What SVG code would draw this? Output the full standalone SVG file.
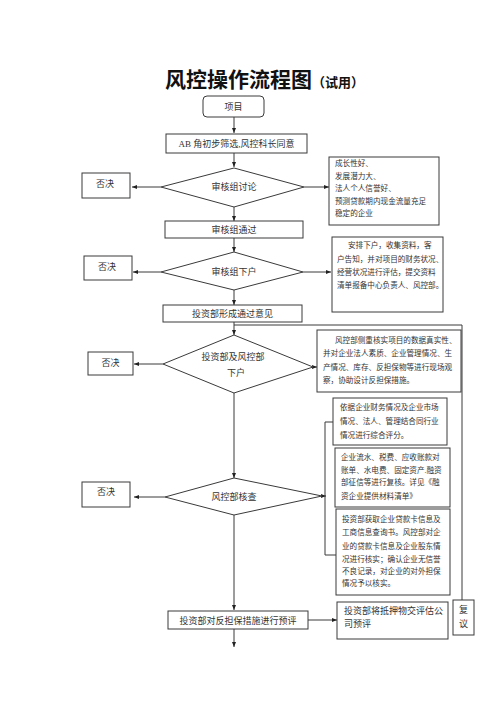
<svg xmlns="http://www.w3.org/2000/svg" width="500" height="708" viewBox="0 0 500 708">
<style>
.b{fill:#fff;stroke:#3a3a3a;stroke-width:1}
.l{fill:none;stroke:#3a3a3a;stroke-width:1}
.t{font-family:"Liberation Serif","Noto Sans CJK SC",serif;font-size:9px;fill:#333}
.s{font-family:"Liberation Serif","Noto Sans CJK SC",serif;font-size:7.6px;fill:#333}
.c{text-anchor:middle}
</style>
<defs>
<marker id="a" viewBox="0 0 10 10" refX="10" refY="5" markerWidth="5" markerHeight="5" orient="auto" markerUnits="userSpaceOnUse"><path d="M0,1 L10,5 L0,9 z" fill="#222"/></marker>
</defs>
<rect width="500" height="708" fill="#fff"/>
<text x="165" y="87" font-family="'Noto Sans CJK SC',sans-serif" font-size="21" font-weight="bold" fill="#111">风控操作流程图<tspan font-size="13">（试用）</tspan></text>

<g id="connectors">
<line class="l" x1="234" y1="117" x2="234" y2="133" marker-end="url(#a)"/>
<line class="l" x1="234" y1="153" x2="234" y2="167" marker-end="url(#a)"/>
<line class="l" x1="161" y1="187" x2="132" y2="187" marker-end="url(#a)"/>
<line class="l" x1="304" y1="187" x2="329" y2="187" marker-end="url(#a)"/>
<line class="l" x1="234" y1="207" x2="234" y2="221" marker-end="url(#a)"/>
<line class="l" x1="234" y1="238" x2="234" y2="252" marker-end="url(#a)"/>
<line class="l" x1="161" y1="272" x2="133" y2="272" marker-end="url(#a)"/>
<line class="l" x1="303" y1="272" x2="331" y2="272" marker-end="url(#a)"/>
<line class="l" x1="234" y1="290" x2="234" y2="305" marker-end="url(#a)"/>
<line class="l" x1="234" y1="322" x2="234" y2="335" marker-end="url(#a)"/>
<polyline class="l" points="234,325 462,325 462,600"/>
<line class="l" x1="163" y1="364" x2="134" y2="364" marker-end="url(#a)"/>
<line class="l" x1="313" y1="367" x2="317" y2="367" marker-end="url(#a)"/>
<line class="l" x1="234" y1="393" x2="234" y2="478" marker-end="url(#a)"/>
<line class="l" x1="165" y1="497" x2="134" y2="497" marker-end="url(#a)"/>
<line class="l" x1="322" y1="496" x2="326" y2="496" marker-end="url(#a)"/>
<polyline class="l" points="333,422 325,422 325,555 336,555"/>
<line class="l" x1="234" y1="515" x2="234" y2="610" marker-end="url(#a)"/>
<line class="l" x1="308" y1="620" x2="337" y2="620" marker-end="url(#a)"/>
<line class="l" x1="234" y1="629" x2="234" y2="647" marker-end="url(#a)"/>
</g>

<g id="n-start"><rect class="b" x="203" y="96" width="61" height="21" rx="4"/><text class="t c" x="233.5" y="109.5">项目</text></g>
<g id="n-ab"><rect class="b" x="166" y="134" width="141" height="19"/><text class="t c" x="236.5" y="147">AB 角初步筛选,风控科长同意</text></g>
<g id="n-d1"><polygon class="b" points="234,168 304,187 234,207 161,187"/><text class="t c" x="234" y="190">审核组讨论</text></g>
<g id="n-r1"><rect class="b" x="82" y="173" width="48" height="25"/><text class="t c" x="105" y="187">否决</text></g>
<g id="n-c1"><rect class="b" x="329" y="157" width="110" height="68"/>
<text class="s" x="335"><tspan x="335" y="166">成长性好、</tspan><tspan x="335" y="178.5">发展潜力大、</tspan><tspan x="335" y="191">法人个人信誉好、</tspan><tspan x="335" y="203.5">预测贷款期内现金流量充足</tspan><tspan x="335" y="216">稳定的企业</tspan></text></g>
<g id="n-pass"><rect class="b" x="165" y="221" width="138" height="17"/><text class="t c" x="234" y="233">审核组通过</text></g>
<g id="n-d2"><polygon class="b" points="234,252 303,272 234,290 161,272"/><text class="t c" x="234" y="275">审核组下户</text></g>
<g id="n-r2"><rect class="b" x="84" y="256" width="48" height="24"/><text class="t c" x="107" y="270">否决</text></g>
<g id="n-c2"><rect class="b" x="332" y="237" width="111" height="75"/>
<text class="s"><tspan x="348" y="248">安排下户，收集资料，客</tspan><tspan x="337" y="262">户告知，并对项目的财务状况、</tspan><tspan x="337" y="275">经营状况进行评估，提交资料</tspan><tspan x="337" y="288">清单报备中心负责人、风控部。</tspan></text></g>
<g id="n-opinion"><rect class="b" x="163" y="305" width="139" height="17"/><text class="t c" x="232.5" y="317">投资部形成通过意见</text></g>
<g id="n-d3"><polygon class="b" points="234,335 313,367 234,393 163,364"/><text class="t c" x="233" y="360">投资部及风控部</text><text class="t c" x="236" y="376">下户</text></g>
<g id="n-r3"><rect class="b" x="88" y="352" width="45" height="23"/><text class="t c" x="110.5" y="366">否决</text></g>
<g id="n-c3"><rect class="b" x="317" y="330" width="144" height="62"/>
<text class="s"><tspan x="335" y="343">风控部侧重核实项目的数据真实性、</tspan><tspan x="323" y="356">并对企业法人素质、企业管理情况、生</tspan><tspan x="323" y="369.5">产情况、库存、反担保物等进行现场观</tspan><tspan x="323" y="383">察，协助设计反担保措施。</tspan></text></g>
<g id="n-d4"><polygon class="b" points="234,478 322,496 234,515 165,497"/><text class="t c" x="234" y="500">风控部核查</text></g>
<g id="n-r4"><rect class="b" x="82" y="482" width="48" height="25"/><text class="t c" x="106" y="495">否决</text></g>
<g id="n-c4a"><rect class="b" x="333" y="398" width="114" height="47"/>
<text class="s"><tspan x="340" y="410">依据企业财务情况及企业市场</tspan><tspan x="340" y="424">情况、法人、管理结合同行业</tspan><tspan x="340" y="437.5">情况进行综合评分。</tspan></text></g>
<g id="n-c4b"><rect class="b" x="335" y="448" width="115" height="59"/>
<text class="s"><tspan x="341" y="460">企业流水、税费、应收账款对</tspan><tspan x="341" y="472.5">账单、水电费、固定资产.融资</tspan><tspan x="341" y="485">部征信等进行复核。详见《融</tspan><tspan x="341" y="498.5">资企业提供材料清单》</tspan></text></g>
<g id="n-c4c"><rect class="b" x="336" y="509" width="114" height="86"/>
<text class="s"><tspan x="342" y="522">投资部获取企业贷款卡信息及</tspan><tspan x="342" y="535">工商信息查询书。风控部对企</tspan><tspan x="342" y="548.5">业的贷款卡信息及企业股东情</tspan><tspan x="342" y="561.5">况进行核实；确认企业无信誉</tspan><tspan x="342" y="574">不良记录，对企业的对外担保</tspan><tspan x="342" y="586">情况予以核实。</tspan></text></g>
<g id="n-pre"><rect class="b" x="168" y="611" width="140" height="18"/><text class="t c" x="238" y="623.5">投资部对反担保措施进行预评</text></g>
<g id="n-eval"><rect class="b" x="337" y="602" width="111" height="37"/>
<text class="t"><tspan x="344" y="614">投资部将抵押物交评估公</tspan><tspan x="344" y="627">司预评</tspan></text></g>
<g id="n-review"><rect class="b" x="453" y="600" width="21" height="35"/><text class="t c" x="463.5" y="613">复</text><text class="t c" x="463.5" y="627">议</text></g>
</svg>
